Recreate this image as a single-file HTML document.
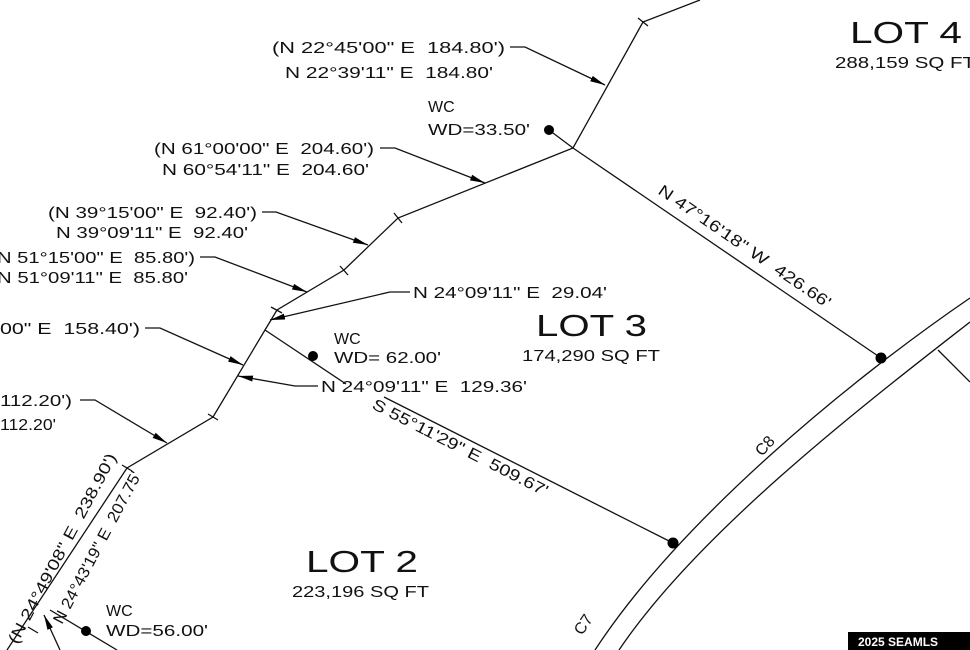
<!DOCTYPE html>
<html><head><meta charset="utf-8"><style>
html,body{margin:0;padding:0;background:#fff}
svg{display:block}
text{font-family:"Liberation Sans",sans-serif;fill:#111;white-space:pre}
</style></head><body>
<svg width="970" height="650" viewBox="0 0 970 650" xmlns="http://www.w3.org/2000/svg" xml:space="preserve">
<defs>
<marker id="a" markerWidth="16" markerHeight="8" refX="15" refY="4" orient="auto" markerUnits="userSpaceOnUse">
<path d="M0,1 L15,4 L0,7 Z" fill="#000"/>
</marker>
</defs>
<g stroke="#111" stroke-width="1.3" fill="none">
<polyline points="700,0 643,22 573,148 398,218 344,270 277,310 265,330 213,417 127,468 7,650"/>
<line x1="549" y1="130" x2="573" y2="148"/>
<line x1="573" y1="148" x2="881" y2="358"/>
<line x1="265" y1="330" x2="346" y2="384"/>
<line x1="384" y1="397" x2="673" y2="543"/>
<path d="M970,298 C850,380 680,520 595,650"/>
<path d="M970,322 C870,400 700,530 619,650"/>
<line x1="938" y1="350" x2="970" y2="382"/>
<line x1="50" y1="610" x2="117" y2="650"/>
<line x1="638" y1="18" x2="648" y2="26"/>
<line x1="394" y1="213" x2="402" y2="223"/>
<line x1="340" y1="266" x2="348" y2="275"/>
<line x1="271" y1="307" x2="282" y2="313"/>
<line x1="208" y1="414" x2="218" y2="420"/>
<line x1="122" y1="465" x2="132" y2="471"/>
<line x1="28" y1="627" x2="38" y2="633"/>
<polyline points="510,47 525,47 605,85" marker-end="url(#a)"/>
<polyline points="380,148 395,148 485,183" marker-end="url(#a)"/>
<polyline points="262,212 276,212 368,245" marker-end="url(#a)"/>
<polyline points="200,257 215,257 307,292" marker-end="url(#a)"/>
<polyline points="145,328 160,328 243,365" marker-end="url(#a)"/>
<polyline points="80,400 95,400 167,443" marker-end="url(#a)"/>
<polyline points="410,292 390,292 270,320" marker-end="url(#a)"/>
<polyline points="318,386 295,386 238,376" marker-end="url(#a)"/>
<polyline points="60,650 44,615" marker-end="url(#a)"/>
</g>
<g fill="#000">
<circle cx="549" cy="130" r="5"/>
<circle cx="313" cy="356" r="5"/>
<circle cx="881" cy="358" r="5.5"/>
<circle cx="673" cy="543" r="5.5"/>
<circle cx="86" cy="631" r="5"/>
</g>
<g font-size="16">
<text x="272" y="53" textLength="233" lengthAdjust="spacingAndGlyphs">(N 22°45'00" E  184.80')</text>
<text x="285" y="78" textLength="208" lengthAdjust="spacingAndGlyphs">N 22°39'11" E  184.80'</text>
<text x="428" y="112">WC</text>
<text x="428" y="135" textLength="102" lengthAdjust="spacingAndGlyphs">WD=33.50'</text>
<text x="154" y="154" textLength="220" lengthAdjust="spacingAndGlyphs">(N 61°00'00" E  204.60')</text>
<text x="162" y="175" textLength="207" lengthAdjust="spacingAndGlyphs">N 60°54'11" E  204.60'</text>
<text x="48" y="218" textLength="209" lengthAdjust="spacingAndGlyphs">(N 39°15'00" E  92.40')</text>
<text x="56" y="238" textLength="192" lengthAdjust="spacingAndGlyphs">N 39°09'11" E  92.40'</text>
<text x="-3" y="263" textLength="198" lengthAdjust="spacingAndGlyphs">N 51°15'00" E  85.80')</text>
<text x="-3" y="283" textLength="191" lengthAdjust="spacingAndGlyphs">N 51°09'11" E  85.80'</text>
<text x="413" y="298" textLength="194" lengthAdjust="spacingAndGlyphs">N 24°09'11" E  29.04'</text>
<text x="0" y="334" textLength="140" lengthAdjust="spacingAndGlyphs">00" E  158.40')</text>
<text x="334" y="344">WC</text>
<text x="334" y="363" textLength="107" lengthAdjust="spacingAndGlyphs">WD= 62.00'</text>
<text x="321" y="392" textLength="206" lengthAdjust="spacingAndGlyphs">N 24°09'11" E  129.36'</text>
<text x="0" y="406" textLength="72" lengthAdjust="spacingAndGlyphs">112.20')</text>
<text x="0" y="430" textLength="56" lengthAdjust="spacingAndGlyphs">112.20'</text>
<text x="106" y="616">WC</text>
<text x="106" y="636" textLength="102" lengthAdjust="spacingAndGlyphs">WD=56.00'</text>
</g>
<text x="536" y="336" font-size="31" textLength="111" lengthAdjust="spacingAndGlyphs">LOT 3</text>
<text x="522" y="361" font-size="16" textLength="138" lengthAdjust="spacingAndGlyphs">174,290 SQ FT</text>
<text x="306" y="572" font-size="31" textLength="112" lengthAdjust="spacingAndGlyphs">LOT 2</text>
<text x="292" y="597" font-size="16" textLength="137" lengthAdjust="spacingAndGlyphs">223,196 SQ FT</text>
<text x="850" y="43" font-size="31" textLength="112" lengthAdjust="spacingAndGlyphs">LOT 4</text>
<text x="835" y="68" font-size="16" textLength="140" lengthAdjust="spacingAndGlyphs">288,159 SQ FT</text>
<g font-size="16">
<text transform="translate(657,193) rotate(34.3)" textLength="205" lengthAdjust="spacingAndGlyphs">N 47°16'18" W  426.66'</text>
<text transform="translate(371,408) rotate(27)" textLength="195" lengthAdjust="spacingAndGlyphs">S 55°11'29" E  509.67'</text>
<text transform="translate(762,457) rotate(-48)">C8</text>
<text transform="translate(582,636) rotate(-56)">C7</text>
<text transform="translate(17,645) rotate(-62)" textLength="213" lengthAdjust="spacingAndGlyphs">(N 24°49'08" E  238.90')</text>
<text transform="translate(62,625) rotate(-62)" textLength="170" lengthAdjust="spacingAndGlyphs">N 24°43'19" E  207.75'</text>
</g>
<rect x="848" y="632" width="122" height="18" fill="#000"/>
<text x="858" y="646" font-size="12" font-weight="bold" style="fill:#fff">2025 SEAMLS</text>
</svg>
</body></html>
